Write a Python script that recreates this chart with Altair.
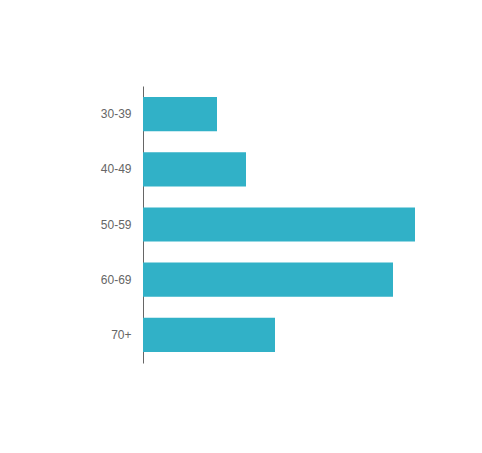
import altair as alt
import pandas as pd

categories = ["30-39", "40-49", "50-59", "60-69", "70+"]
values = [74, 103, 272, 250, 132]

df = pd.DataFrame({"age": categories, "value": values})

chart = alt.Chart(df).mark_bar(color="#31b1c7").encode(
    y=alt.Y("age:N", sort=categories, title=None,
            scale=alt.Scale(paddingInner=0.38, paddingOuter=0.2),
            axis=alt.Axis(ticks=False, domainColor="#666666", domainWidth=1,
                          labelColor="#666666", labelFont="Liberation Sans",
                          labelFontSize=12, labelPadding=12)),
    x=alt.X("value:Q", axis=None, scale=alt.Scale(domain=[0, 290], nice=False)),
).properties(
    width=290, height=277,
    autosize=alt.AutoSizeParams(type="none"),
    padding={"left": 135, "top": 78, "right": 40, "bottom": 60},
).configure_view(stroke=None)

chart.save("out.html", embed_options={"renderer": "svg", "actions": False})
